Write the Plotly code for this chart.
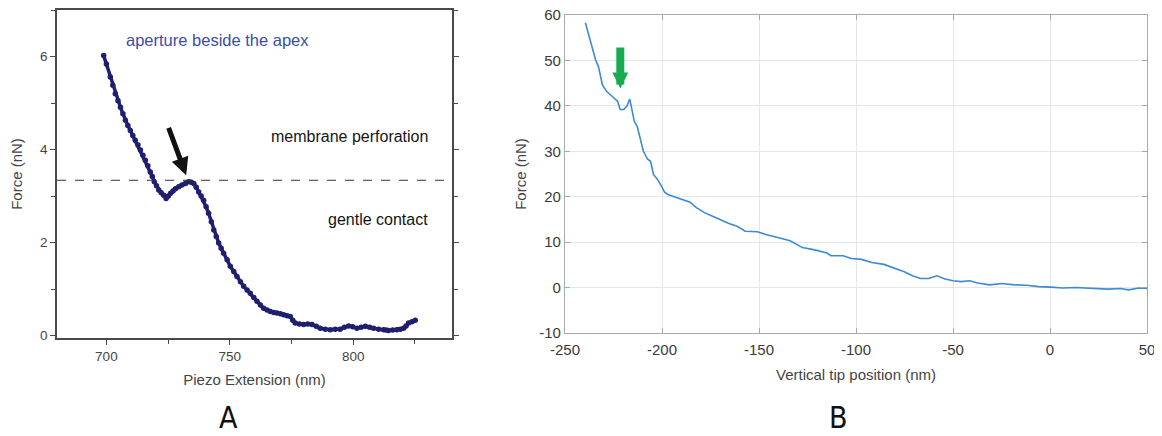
import plotly.graph_objects as go

# ---------------- Panel A data ----------------
a_ext = [698.9, 700.0, 701.6, 702.6, 703.6, 704.7, 705.7, 706.7, 707.7, 708.7, 709.7, 710.7,
         711.7, 712.8, 713.8, 714.8, 715.8, 716.8, 717.8, 718.6, 719.4, 720.3, 721.2, 722.2,
         723.2, 724.2, 725.1, 726.0, 727.0, 728.0, 729.3, 730.6, 732.0, 733.3, 734.4, 735.4,
         736.4, 737.4, 738.4, 739.4, 740.4, 741.4, 742.5, 743.5, 744.5, 745.5, 746.5, 747.5,
         748.9, 750.2, 751.6, 752.9, 754.3, 755.6, 757.0, 758.3, 759.7, 761.0, 762.4, 763.7,
         765.1, 766.4, 767.8, 769.1, 770.5, 771.8, 773.2, 774.5, 775.5, 776.5, 778.2, 779.9,
         781.6, 783.3, 785.0, 786.6, 788.7, 790.7, 792.7, 794.7, 796.4, 798.1, 799.8, 801.5,
         803.2, 804.9, 806.6, 808.2, 810.3, 812.3, 813.3, 814.3, 816.0, 817.7, 819.1, 820.4,
         821.4, 822.4, 823.8, 825.1]
a_force = [6.02, 5.84, 5.56, 5.38, 5.20, 5.05, 4.91, 4.77, 4.63, 4.52, 4.41, 4.30,
           4.20, 4.10, 3.99, 3.88, 3.77, 3.65, 3.52, 3.42, 3.31, 3.22, 3.13, 3.07,
           3.02, 2.95, 3.00, 3.06, 3.11, 3.16, 3.20, 3.24, 3.27, 3.31, 3.30, 3.27,
           3.19, 3.09, 3.00, 2.91, 2.77, 2.63, 2.45, 2.27, 2.13, 1.99, 1.88, 1.77,
           1.63, 1.49, 1.38, 1.27, 1.16, 1.06, 0.98, 0.91, 0.82, 0.74, 0.66, 0.59,
           0.55, 0.52, 0.50, 0.49, 0.47, 0.45, 0.43, 0.41, 0.33, 0.27, 0.25, 0.24,
           0.25, 0.24, 0.20, 0.16, 0.14, 0.13, 0.14, 0.14, 0.18, 0.21, 0.19, 0.16,
           0.18, 0.20, 0.18, 0.16, 0.14, 0.13, 0.12, 0.11, 0.12, 0.13, 0.14, 0.16,
           0.21, 0.27, 0.30, 0.33]
a_threshold = 3.34
a_xticks = [700, 750, 800]
a_yticks = [0, 2, 4, 6]

# ---------------- Panel B data ----------------
b_pos = [-239.5, -238.0, -236.5, -235.3, -234.2, -232.8, -231.7, -230.7, -228.6, -225.4,
         -223.9, -222.9, -221.6, -219.7, -218.0, -216.6, -216.0, -214.3, -212.8, -211.1,
         -209.6, -207.5, -205.9, -204.4, -202.3, -200.2, -198.7, -197.0, -192.8, -188.6,
         -185.5, -182.3, -178.1, -173.9, -169.7, -165.5, -161.3, -157.1, -150.8, -146.6,
         -140.3, -134.0, -127.6, -121.3, -115.0, -112.9, -106.6, -102.4, -97.1, -91.9,
         -85.6, -81.4, -75.1, -70.9, -66.7, -62.5, -58.3, -54.1, -50.0, -45.7,
         -41.5, -37.3, -31.0, -24.7, -18.3, -12.1, -5.8, 0.4, 6.7, 13.0,
         19.5, 25.8, 30.0, 36.3, 40.5, 45.8, 50.0]
b_force = [58.3, 56.0, 54.1, 52.3, 50.1, 48.7, 46.8, 44.6, 43.2, 42.1,
           41.4, 41.0, 39.2, 39.2, 40.0, 41.5, 40.2, 36.6, 35.5, 32.6,
           30.0, 28.3, 27.8, 24.9, 23.8, 22.3, 21.0, 20.5, 19.9, 19.4,
           18.8, 17.6, 16.5, 15.7, 14.9, 14.1, 13.5, 12.4, 12.3, 11.7,
           11.0, 10.3, 8.8, 8.3, 7.6, 7.0, 7.0, 6.4, 6.2, 5.5,
           5.1, 4.4, 3.5, 2.6, 2.0, 2.0, 2.6, 1.9, 1.5, 1.3,
           1.5, 1.0, 0.6, 0.9, 0.6, 0.5, 0.2, 0.1, -0.1, 0.0,
           -0.1, -0.2, -0.35, -0.2, -0.5, -0.1, -0.2]
b_xticks = [-250, -200, -150, -100, -50, 0, 50]
b_xticklabels = ["-250", "-200", "-150", "-100", "-50", "0", "50"]
b_yticks = [-10, 0, 10, 20, 30, 40, 50, 60]
b_yticklabels = ["-10", "0", "10", "20", "30", "40", "50", "60"]

# page body has an 8px margin; figure is sized so that it fits the window exactly
OFF = 8
PAGE_W, PAGE_H = 1162, 436
W, H = PAGE_W - OFF, PAGE_H - OFF

def px(p):
    return (p - OFF) / W

def py(p):
    return 1 - (p - OFF) / H

def dx(p0, p1):
    return [px(p0), px(p1)]

def dy(top, bottom):
    return [py(bottom), py(top)]

FONT = "Liberation Sans, Arial"

fig = go.Figure()

fig.add_trace(go.Scatter(
    x=a_ext, y=a_force, mode="lines+markers",
    line=dict(color="#1f1f70", width=3.5),
    marker=dict(color="#1f1f70", size=5.5),
    xaxis="x", yaxis="y", showlegend=False))

fig.add_trace(go.Scatter(
    x=b_pos, y=b_force, mode="lines",
    line=dict(color="#3d8ad3", width=1.6),
    xaxis="x2", yaxis="y2", showlegend=False))

axA = dict(showline=True, linecolor="#4a4a4a", linewidth=1.5, mirror="allticks",
           ticks="outside", ticklen=5, tickwidth=1.3, tickcolor="#4a4a4a",
           showgrid=False, zeroline=False, automargin=False, ticklabeloverflow="allow",
           tickfont=dict(family=FONT, size=13.5, color="#444"))

axB = dict(showline=True, linecolor="#a8a8a8", linewidth=1.2,
           mirror="ticks", ticks="inside", ticklen=5, tickcolor="#a8a8a8",
           showgrid=True, gridcolor="#e6e6e6", gridwidth=1, zeroline=False,
           automargin=False, ticklabeloverflow="allow",
           tickfont=dict(family=FONT, size=15, color="#3a3a3a"))

fig.update_layout(
    width=W, height=H,
    margin=dict(l=0, r=0, t=0, b=0),
    paper_bgcolor="white", plot_bgcolor="white",
    xaxis=dict(axA, domain=dx(57, 452), range=[680, 840], tickvals=a_xticks,
               anchor="y",
               minor=dict(dtick=25, tick0=0, ticks="outside", ticklen=4, tickcolor="#4a4a4a"),
               title=dict(text="Piezo Extension (nm)", standoff=12,
                          font=dict(family=FONT, size=15, color="#444"))),
    yaxis=dict(axA, domain=dy(10, 338), range=[-0.05, 7.0], tickvals=a_yticks,
               anchor="x",
               minor=dict(dtick=1, tick0=0, ticks="outside", ticklen=4, tickcolor="#4a4a4a"),
               title=dict(text="Force (nN)", standoff=14,
                          font=dict(family=FONT, size=15, color="#444"))),
    xaxis2=dict(axB, domain=dx(565, 1147), range=[-250, 50], tickvals=b_xticks,
                ticktext=b_xticklabels, anchor="y2", ticklabelstandoff=3,
                title=dict(text="Vertical tip position (nm)", standoff=12,
                           font=dict(family=FONT, size=15, color="#444"))),
    yaxis2=dict(axB, domain=dy(15, 333), range=[-10, 60], tickvals=b_yticks,
                ticktext=b_yticklabels, anchor="x2",
                title=dict(text="Force (nN)", standoff=8,
                           font=dict(family=FONT, size=15, color="#444"))),
)

# dashed threshold line in panel A
fig.add_shape(type="line", xref="x domain", yref="y", x0=0, x1=1,
              y0=a_threshold, y1=a_threshold,
              line=dict(color="#333", width=1, dash="dash"))

# Panel A texts
fig.add_annotation(x=px(217), y=py(40), xref="paper", yref="paper",
                   xanchor="center", yanchor="middle",
                   text="aperture beside the apex", showarrow=False,
                   font=dict(family=FONT, size=16.5, color="#3a4ea6"))
fig.add_annotation(x=px(430), y=py(137), xref="paper", yref="paper",
                   xanchor="right", yanchor="middle",
                   text="membrane perforation", showarrow=False,
                   font=dict(family=FONT, size=16, color="#151515"))
fig.add_annotation(x=px(430), y=py(220), xref="paper", yref="paper",
                   xanchor="right", yanchor="middle",
                   text="gentle contact", showarrow=False,
                   font=dict(family=FONT, size=16, color="#151515"))

# Panel A black arrow
fig.add_annotation(x=732.3, y=3.45, xref="x", yref="y", ax=725.0, ay=4.5, axref="x", ayref="y",
                   text="", showarrow=True, arrowhead=2, arrowsize=0.7, arrowwidth=5,
                   arrowcolor="#111")

# Panel B green arrow
fig.add_annotation(x=-221.5, y=43.8, xref="x2", yref="y2", ax=-221.5, ay=53.2,
                   axref="x2", ayref="y2",
                   text="", showarrow=True, arrowhead=2, arrowsize=0.4, arrowwidth=8,
                   arrowcolor="#1aab52")

# Panel labels
for lbl, xc in (("A", 228), ("B", 838)):
    fig.add_annotation(x=px(xc), y=0, xref="paper", yref="paper", text=lbl,
                       xanchor="center", yanchor="bottom", borderpad=0,
                       showarrow=False,
                       font=dict(family="DejaVu Sans Condensed, DejaVu Sans",
                                 size=30, color="#111"))

fig.write_html("out.html")
